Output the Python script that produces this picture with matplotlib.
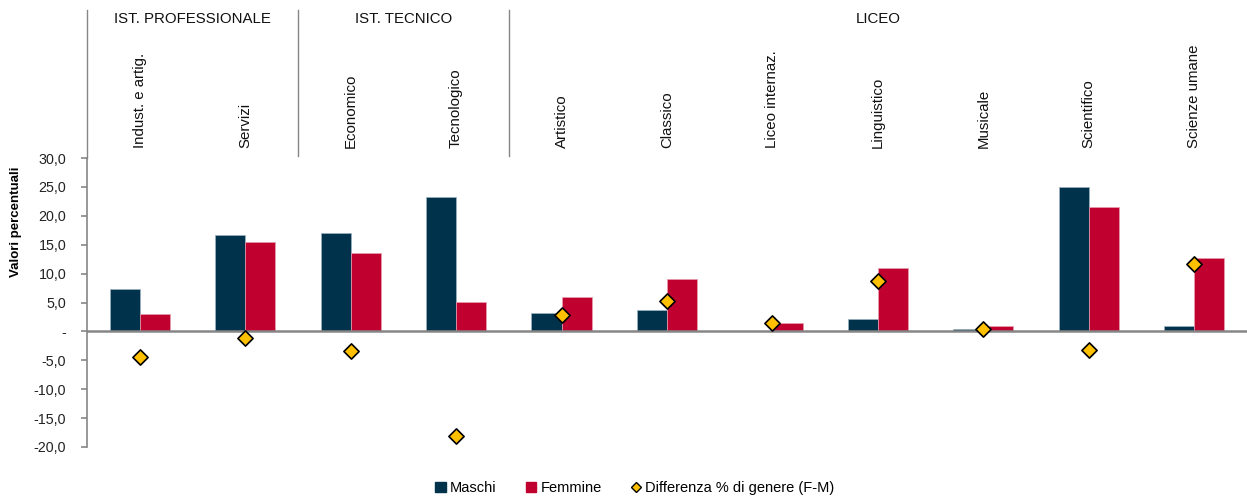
import numpy as np
import matplotlib.pyplot as plt
import matplotlib.transforms as mtransforms
from matplotlib.lines import Line2D
from matplotlib.patches import Patch

plt.rcParams["font.family"] = ["Liberation Sans", "DejaVu Sans"]

# Dati
categorie = ["Indust. e artig.", "Servizi", "Economico", "Tecnologico", "Artistico",
             "Classico", "Liceo internaz.", "Linguistico", "Musicale", "Scientifico",
             "Scienze umane"]
maschi = [7.4, 16.6, 17.0, 23.2, 3.2, 3.7, 0.0, 2.2, 0.4, 24.9, 1.0]
femmine = [3.0, 15.5, 13.6, 5.1, 6.0, 9.0, 1.5, 10.9, 0.9, 21.6, 12.7]
differenza = [-4.4, -1.1, -3.4, -18.1, 2.8, 5.3, 1.4, 8.7, 0.5, -3.3, 11.7]
gruppi = ["IST. PROFESSIONALE", "IST. TECNICO", "LICEO"]
gruppi_inizio = [0, 2, 4]
gruppi_fine = [1, 3, 10]

col_m = "#00324B"
col_f = "#C0002F"
col_d = "#FFC000"

fig = plt.figure(figsize=(12.47, 4.97), dpi=100)
ax = fig.add_axes([87 / 1247, 1 - 447 / 497, 1 - 87 / 1247, (447 - 158) / 497])

x = np.arange(len(categorie))
w = 0.285
ax.bar(x - w / 2, maschi, w, color=col_m, edgecolor="#9fb3c2", linewidth=0.5)
ax.bar(x + w / 2, femmine, w, color=col_f, edgecolor="#e8a0b0", linewidth=0.5)
ax.scatter(x, differenza, marker="D", s=60, color=col_d, edgecolor="black",
           linewidth=1.2, zorder=5)

ax.axhline(0, color="#868686", linewidth=1.8, zorder=4)
ax.set_xlim(-0.5, len(categorie) - 0.5)
ax.set_ylim(-20, 30)
ticks = np.arange(-20, 31, 5)
ax.set_yticks(ticks)
ax.set_yticklabels(["-" if t == 0 else f"{t:.1f}".replace(".", ",") for t in ticks],
                   fontsize=10.3, color="#222222")
ax.set_xticks([])
for s in ["top", "right", "bottom"]:
    ax.spines[s].set_visible(False)
ax.spines["left"].set_color("#868686")
ax.spines["left"].set_linewidth(1.2)
ax.tick_params(axis="y", length=4, color="#868686", width=1.2, pad=11)
ax.set_ylabel("Valori percentuali", fontsize=9.5, fontweight="bold")
ax.yaxis.set_label_coords(-0.056, 0.78)

# intestazione con gruppi e categorie
trans = mtransforms.blended_transform_factory(ax.transData, fig.transFigure)
for xs in [-0.5, 1.5, 3.5]:
    ytop = 1 - 10 / 497
    ybot = 1 - 158 / 497 if xs == -0.5 else 1 - 156 / 497
    ax.add_line(Line2D([xs, xs], [ybot, ytop], transform=trans, color="#868686",
                       linewidth=1.0, clip_on=False))
for g, a, b in zip(gruppi, gruppi_inizio, gruppi_fine):
    ax.text((a + b) / 2, 1 - 19 / 497, g, transform=trans, ha="center", va="center",
            fontsize=10.8, color="#111111")
for i, c in enumerate(categorie):
    ax.text(i, 1 - 148 / 497, c, transform=trans, rotation=90, ha="center",
            va="bottom", fontsize=10.8, color="#111111")

handles = [Patch(color=col_m, label="Maschi"),
           Patch(color=col_f, label="Femmine"),
           Line2D([], [], marker="D", linestyle="", markersize=5, markerfacecolor=col_d,
                  markeredgecolor="black", label="Differenza % di genere (F-M)")]
fig.legend(handles=handles, loc="center", bbox_to_anchor=(635 / 1247, 1 - 488 / 497),
           ncol=3, frameon=False, fontsize=10.5, handlelength=0.7, handleheight=0.7,
           handletextpad=0.3, columnspacing=2.0)

fig.savefig("out.png", dpi=100)
